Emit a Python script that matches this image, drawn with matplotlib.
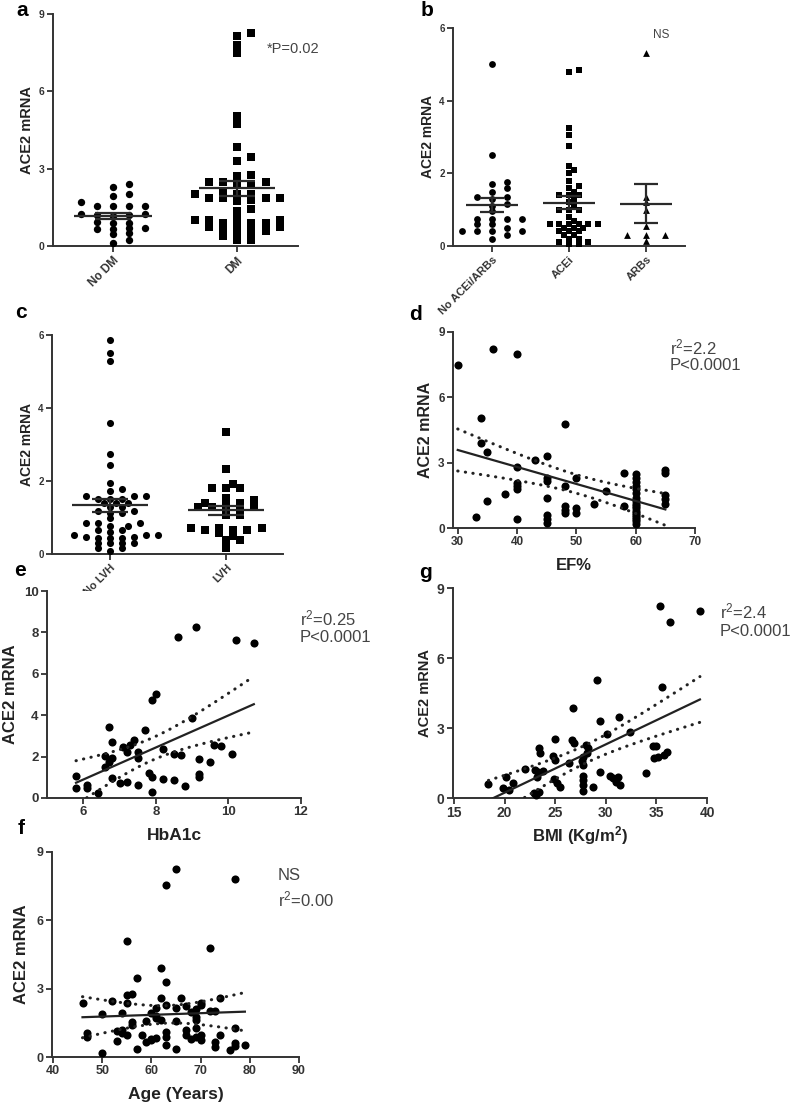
import numpy as np
import matplotlib
matplotlib.use("Agg")
import matplotlib.pyplot as plt

# ---------------- data ----------------
# a : diabetes
a_cats = ["No DM", "DM"]
a_nodm = [2.4, 2.3, 2.0, 1.95, 1.7, 1.55, 1.55, 1.55, 1.55, 1.2, 1.25, 1.15, 1.25, 1.2,
          0.9, 0.9, 0.95, 0.65, 0.7, 0.65, 0.7, 0.45, 0.5, 0.25, 0.1]
a_dm = [8.25, 8.15, 7.8, 7.5, 5.05, 4.75, 3.85, 3.45, 3.3, 2.75, 2.7, 2.5, 2.5, 2.5, 2.35,
        2.35, 2.1, 2.0, 2.0, 2.0, 1.85, 1.85, 1.85, 1.85, 1.75, 1.8, 1.45, 1.35, 1.15, 1.0,
        1.0, 1.0, 0.9, 0.9, 0.9, 0.9, 0.75, 0.75, 0.65, 0.65, 0.6, 0.6, 0.45, 0.45, 0.4,
        0.25, 0.25]

# b : treatment
b_cats = ["No ACEi/ARBs", "ACEi", "ARBs"]
b_none = [5.0, 2.5, 1.75, 1.7, 1.6, 1.5, 1.35, 1.35, 1.3, 1.15, 1.1, 0.95, 0.75, 0.75,
          0.75, 0.75, 0.6, 0.6, 0.5, 0.4, 0.4, 0.4, 0.4, 0.3, 0.2]
b_acei = [4.85, 4.8, 3.25, 3.05, 2.75, 2.2, 2.1, 2.0, 1.8, 1.65, 1.6, 1.5, 1.4, 1.4, 1.4,
          1.3, 1.2, 1.1, 1.0, 1.0, 1.0, 0.8, 0.7, 0.6, 0.6, 0.6, 0.6, 0.6, 0.6, 0.5, 0.5,
          0.5, 0.4, 0.4, 0.4, 0.3, 0.3, 0.2, 0.2, 0.1, 0.1, 0.05, 0.05]
b_arb = [5.3, 1.35, 1.2, 1.0, 0.55, 0.3, 0.3, 0.3, 0.15]

# c : LVH
c_cats = ["No LVH", "LVH"]
c_nolvh = [5.85, 5.5, 5.3, 3.6, 2.75, 2.45, 1.95, 1.78, 1.73, 1.6, 1.6, 1.6, 1.51, 1.51,
           1.51, 1.39, 1.39, 1.39, 1.28, 1.28, 1.18, 1.18, 1.11, 1.11, 0.99, 0.84, 0.84,
           0.84, 0.77, 0.77, 0.66, 0.66, 0.59, 0.52, 0.52, 0.52, 0.47, 0.47, 0.43, 0.43,
           0.43, 0.29, 0.29, 0.29, 0.29, 0.17, 0.17, 0.08]
c_lvh = [3.35, 2.32, 1.91, 1.8, 1.8, 1.8, 1.53, 1.48, 1.41, 1.41, 1.41, 1.3, 1.3, 1.3,
         1.22, 1.22, 1.07, 1.07, 0.7, 0.7, 0.7, 0.66, 0.66, 0.66, 0.57, 0.49, 0.38, 0.38,
         0.16]

# d : EF%
d_ef = [30, 36, 40, 34, 48, 34, 35, 40, 43, 45, 40, 40, 40, 45, 45, 45, 45, 45, 45, 38,
        35, 33, 40, 48, 48, 48, 48, 50, 50, 50, 53, 55, 58, 58,
        60, 60, 60, 60, 60, 60, 60, 60, 60, 60, 60, 60, 60, 60, 60, 60, 60, 60,
        65, 65, 65, 65, 65]
d_ace2 = [7.5, 8.23, 8.0, 5.05, 4.78, 3.9, 3.48, 2.8, 3.14, 3.3, 2.07, 1.92, 1.77, 2.3,
          2.15, 1.39, 0.6, 0.4, 0.25, 1.54, 1.23, 0.5, 0.42, 1.95, 1.02, 0.84, 0.69, 2.3,
          0.9, 0.7, 1.12, 1.69, 2.53, 1.0,
          2.5, 2.3, 2.1, 1.95, 1.8, 1.6, 1.4, 1.25, 1.1, 1.0, 0.9, 0.8, 0.7, 0.6, 0.5,
          0.4, 0.3, 0.2,
          2.68, 2.53, 1.5, 1.33, 1.12]

# e : HbA1c
e_hba1c = [8.6, 9.1, 10.2, 10.7, 7.9, 8.0, 9.0, 6.7, 7.7, 6.8, 7.1, 7.4, 7.3, 7.2, 7.5,
           7.5, 8.2, 8.5, 8.7, 6.6, 6.8, 6.7, 6.6, 9.2, 9.5, 9.6, 9.8, 10.1, 5.8, 5.8,
           6.1, 6.1, 6.4, 6.8, 7.0, 7.2, 7.5, 7.8, 7.9, 7.9, 8.2, 8.5, 8.8, 9.2, 9.2]
e_ace2 = [7.76, 8.25, 7.63, 7.5, 4.73, 5.02, 3.88, 3.45, 3.28, 2.72, 2.48, 2.8, 2.56,
          2.24, 2.24, 1.92, 2.35, 2.13, 2.08, 2.03, 1.92, 1.75, 1.51, 1.87, 1.75, 2.56,
          2.53, 2.11, 1.06, 0.5, 0.63, 0.46, 0.26, 0.98, 0.71, 0.79, 0.63, 1.22, 1.0,
          0.3, 0.9, 0.87, 0.58, 1.16, 1.0]

# g : BMI
g_bmi = [35.4, 36.3, 39.3, 29.1, 35.6, 26.8, 29.4, 31.3, 30.1, 32.4, 25.0, 26.7, 26.9,
         23.4, 23.5, 28.0, 28.2, 28.1, 34.7, 35.0, 36.0, 35.8, 34.8, 35.2, 24.8, 25.0,
         26.4, 27.6, 27.7, 27.7, 22.0, 23.0, 23.3, 23.8, 23.2, 29.4, 24.85, 25.15, 25.5,
         20.1, 18.4, 19.8, 20.4, 20.8, 22.9, 23.4, 27.7, 27.7, 27.7, 27.7, 28.7, 30.4,
         30.7, 31.0, 31.4, 34.0, 31.2, 23.1]
g_ace2 = [8.23, 7.53, 8.01, 5.06, 4.77, 3.87, 3.3, 3.46, 2.73, 2.81, 2.53, 2.49, 2.34,
          2.13, 1.92, 2.27, 2.13, 1.92, 2.23, 2.23, 1.98, 1.84, 1.7, 1.74, 1.8, 1.63,
          1.51, 1.6, 1.41, 1.77, 1.23, 1.2, 1.13, 1.17, 0.91, 1.13, 0.8, 0.63, 0.49,
          0.89, 0.59, 0.41, 0.34, 0.63, 0.23, 0.27, 0.94, 0.77, 0.56, 0.31, 0.49, 0.94,
          0.84, 0.7, 0.56, 1.06, 0.91, 0.13]

# f : Age
f_age = [65, 63, 77, 55, 72, 62, 57, 63, 56, 55, 46, 52, 55, 62, 63, 66, 65, 67, 61, 69,
         68, 70, 70, 74, 72, 73, 50, 54, 60, 61, 61, 62, 59, 56, 56, 65, 69, 69, 47, 47,
         53, 54, 54, 55, 53, 58, 59, 60, 60, 61, 63, 63, 63, 67, 67, 68, 69, 70, 70, 65,
         57, 50, 73, 73, 74, 77, 77, 76, 77, 79, 69]
f_ace2 = [8.24, 7.55, 7.8, 5.09, 4.8, 3.92, 3.45, 3.3, 2.75, 2.72, 2.36, 2.46, 2.36, 2.58,
          2.28, 2.58, 2.14, 2.24, 2.17, 2.09, 1.99, 2.28, 2.36, 2.6, 2.03, 2.03, 1.89,
          1.92, 1.94, 1.8, 1.7, 1.62, 1.59, 1.55, 1.4, 1.58, 1.77, 1.62, 1.04, 0.89, 1.14,
          1.18, 1.04, 0.97, 0.72, 0.97, 0.67, 0.75, 0.78, 0.82, 1.11, 0.89, 0.53, 1.18,
          0.97, 0.78, 1.29, 0.97, 0.75, 0.34, 0.34, 0.19, 0.67, 0.45, 0.97, 1.26, 0.6,
          0.31, 0.48, 0.53, 0.89]

# ---------------- figure ----------------
plt.rcParams['font.family'] = ['Liberation Sans', 'DejaVu Sans']
plt.rcParams['font.weight'] = 'bold'
plt.rcParams['mathtext.fontset'] = 'custom'
plt.rcParams['mathtext.rm'] = 'Liberation Sans'
plt.rcParams['mathtext.default'] = 'regular'

W, H = 797, 1105
fig = plt.figure(figsize=(W / 100, H / 100), dpi=100)
AX_COL = '#333333'
TXT_COL = '#444444'
T_CRIT = 2.0


def add_ax(l, t, r, b):
    ax = fig.add_axes([l / W, 1 - b / H, (r - l) / W, (b - t) / H])
    ax._px = (l, t, r, b)
    return ax


def style(ax, fs):
    for s in ['top', 'right']:
        ax.spines[s].set_visible(False)
    for s in ['left', 'bottom']:
        ax.spines[s].set_linewidth(1.4)
        ax.spines[s].set_color(AX_COL)
    ax.tick_params(direction='out', length=4, width=1.3, colors=AX_COL,
                   labelsize=fs, pad=2)


def ylab(ax, x_px, fs):
    l, t, r, b = ax._px
    ax.set_ylabel('ACE2 mRNA', fontsize=fs, fontweight='bold', color='#222222',
                  va='center')
    ax.yaxis.set_label_coords((x_px - l) / (r - l), 0.5)


def xlab(ax, text, y_px, fs):
    l, t, r, b = ax._px
    ax.set_xlabel(text, fontsize=fs, fontweight='bold', color='#222222', va='center')
    ax.xaxis.set_label_coords(0.5, (b - y_px) / (b - t))


def ftext(x, y, s, **kw):
    fig.text(x / W, 1 - y / H, s, **kw)


def swarm_offsets(vals, px_y, diam, kx=2.0, ky=0.7):
    ypx = np.asarray(vals, float) * px_y
    order = np.argsort(ypx)
    placed = []
    offs = np.zeros(len(ypx))
    step = kx * diam / 2
    for i in order:
        cands = [0.0]
        for j in range(1, 60):
            cands += [j * step, -j * step]
        for c in cands:
            if all(((c - ox) / (kx * diam)) ** 2 + ((ypx[i] - oy) / (ky * diam)) ** 2 >= 0.98
                   for ox, oy in placed):
                break
        offs[i] = c
        placed.append((c, ypx[i]))
    return offs


def dot_group(ax, pos, vals, marker, s, xlim, ylim, mean_hw_px, cap_hw_px, kx=2.0, ky=0.7):
    l, t, r, b = ax._px
    px_x = (r - l) / (xlim[1] - xlim[0])
    px_y = (b - t) / (ylim[1] - ylim[0])
    diam = np.sqrt(s) * 100 / 72
    offs = swarm_offsets(vals, px_y, diam, kx=kx, ky=ky)
    v = np.asarray(vals, float)
    ax.scatter(pos + offs / px_x, v, marker=marker, s=s, c='black', lw=0, zorder=3,
               clip_on=False)
    m = v.mean()
    se = v.std(ddof=1) / np.sqrt(len(v))
    ax.hlines(m, pos - mean_hw_px / px_x, pos + mean_hw_px / px_x, color='#2a2a2a',
              lw=1.6, zorder=4)
    ax.vlines(pos, m - se, m + se, color='#2a2a2a', lw=1.6, zorder=4)
    ax.hlines([m - se, m + se], pos - cap_hw_px / px_x, pos + cap_hw_px / px_x,
              color='#2a2a2a', lw=1.6, zorder=4)


def regression(ax, x, y, s=34):
    x = np.asarray(x, float)
    y = np.asarray(y, float)
    ax.scatter(x, y, s=s, c='black', lw=0, zorder=3, clip_on=False)
    slope, inter = np.polyfit(x, y, 1)
    xs = np.linspace(x.min(), x.max(), 200)
    yh = inter + slope * xs
    n = len(x)
    res = y - (inter + slope * x)
    sd = np.sqrt(np.sum(res ** 2) / (n - 2))
    sxx = np.sum((x - x.mean()) ** 2)
    se = sd * np.sqrt(1.0 / n + (xs - x.mean()) ** 2 / sxx)
    ax.plot(xs, yh, color='#222222', lw=1.6, zorder=4)
    for band in (yh + T_CRIT * se, yh - T_CRIT * se):
        ok = band >= 0
        ax.plot(xs[ok], band[ok], color='#222222', lw=2.2, ls=(0, (0.1, 2.4)),
                dash_capstyle='round', zorder=4)


# ---- panel a ----
ax = add_ax(53, 14, 298, 246)
xl, yl = (-0.484, 1.49), (0, 9)
ax.set_xlim(xl); ax.set_ylim(yl)
dot_group(ax, 0, a_nodm, 'o', 28, xl, yl, 39, 18, kx=2.2)
dot_group(ax, 1, a_dm, 's', 26, xl, yl, 38, 18, kx=2.0)
ax.set_yticks([0, 3, 6, 9])
ax.set_xticks([0, 1])
ax.set_xticklabels(a_cats, rotation=45, ha='right', rotation_mode='anchor', fontsize=8.5)
style(ax, 7.5)
ax.tick_params(axis='x', labelsize=8.5)
ylab(ax, 27, 10.5)
ftext(267, 49, '*P=0.02', fontsize=10.5, fontweight='normal', color=TXT_COL, va='center')
ftext(22, 10, 'a', fontsize=15, fontweight='bold', va='center', ha='center')

# ---- panel b ----
ax = add_ax(453, 28, 685, 246)
xl, yl = (-0.506, 2.506), (0, 6)
ax.set_xlim(xl); ax.set_ylim(yl)
dot_group(ax, 0, b_none, 'o', 24, xl, yl, 26, 12, kx=2.2)
dot_group(ax, 1, b_acei, 's', 24, xl, yl, 26, 12, kx=1.4, ky=0.6)
dot_group(ax, 2, b_arb, '^', 24, xl, yl, 26, 12, kx=2.8)
ax.set_yticks([0, 2, 4, 6])
ax.set_xticks([0, 1, 2])
ax.set_xticklabels(b_cats, rotation=45, ha='right', rotation_mode='anchor', fontsize=8)
style(ax, 7)
ax.tick_params(axis='x', labelsize=8)
ylab(ax, 428, 10)
ftext(653, 35, 'NS', fontsize=8.5, fontweight='normal', color=TXT_COL, va='center')
ftext(427, 10, 'b', fontsize=15, fontweight='bold', va='center', ha='center')

# ---- panel c ----
ax = add_ax(52, 335, 283, 554)
xl, yl = (-0.5, 1.49), (0, 6)
ax.set_xlim(xl); ax.set_ylim(yl)
dot_group(ax, 0, c_nolvh, 'o', 26, xl, yl, 38, 18, kx=1.7, ky=0.6)
dot_group(ax, 1, c_lvh, 's', 26, xl, yl, 38, 18, kx=2.0, ky=0.6)
ax.set_yticks([0, 2, 4, 6])
ax.set_xticks([0, 1])
ax.set_xticklabels(c_cats, rotation=45, ha='right', rotation_mode='anchor', fontsize=8)
style(ax, 7)
ax.tick_params(axis='x', labelsize=8)
ylab(ax, 27, 10)
ftext(21, 313, 'c', fontsize=15, fontweight='bold', va='center', ha='center')

# ---- panel d ----
ax = add_ax(453, 332, 695, 528)
ax.set_xlim(29.2, 70); ax.set_ylim(0, 9)
regression(ax, d_ef, d_ace2)
ax.set_xticks([30, 40, 50, 60, 70]); ax.set_yticks([0, 3, 6, 9])
style(ax, 8.5)
ylab(ax, 425, 11.5)
xlab(ax, 'EF%', 565, 12)
ftext(670, 347, '$\\mathregular{r^2}$=2.2', fontsize=12, fontweight='normal',
      color=TXT_COL, va='center')
ftext(670, 366, 'P<0.0001', fontsize=12, fontweight='normal', color=TXT_COL, va='center')
ftext(415, 315, 'd', fontsize=15, fontweight='bold', va='center', ha='center')

# ---- panel e ----
ax = add_ax(47, 591, 301, 798)
ax.set_xlim(5, 12); ax.set_ylim(0, 10)
regression(ax, e_hba1c, e_ace2)
ax.set_xticks([6, 8, 10, 12]); ax.set_yticks([0, 2, 4, 6, 8, 10])
style(ax, 9.5)
ylab(ax, 11, 12)
xlab(ax, 'HbA1c', 836, 12.5)
ftext(300, 618, '$\\mathregular{r^2}$=0.25', fontsize=12, fontweight='normal',
      color=TXT_COL, va='center')
ftext(300, 638, 'P<0.0001', fontsize=12, fontweight='normal', color=TXT_COL, va='center')
ftext(20, 570, 'e', fontsize=15, fontweight='bold', va='center', ha='center')

# ---- panel g ----
ax = add_ax(453, 588, 707, 798)
ax.set_xlim(14.9, 40); ax.set_ylim(0, 9)
regression(ax, g_bmi, g_ace2)
ax.set_xticks([15, 20, 25, 30, 35, 40]); ax.set_yticks([0, 3, 6, 9])
style(ax, 10)
ylab(ax, 425, 10.5)
xlab(ax, 'BMI (Kg/m$^2$)', 836, 12)
ftext(720, 611, '$\\mathregular{r^2}$=2.4', fontsize=12, fontweight='normal',
      color=TXT_COL, va='center')
ftext(720, 632, 'P<0.0001', fontsize=12, fontweight='normal', color=TXT_COL, va='center')
ftext(425, 572, 'g', fontsize=15, fontweight='bold', va='center', ha='center')

# ---- panel f ----
ax = add_ax(52, 852, 299, 1057)
ax.set_xlim(39.8, 90); ax.set_ylim(0, 9)
regression(ax, f_age, f_ace2)
ax.set_xticks([40, 50, 60, 70, 80, 90]); ax.set_yticks([0, 3, 6, 9])
style(ax, 9)
ylab(ax, 22, 12)
xlab(ax, 'Age (Years)', 1094, 12.5)
ftext(278, 875, 'NS', fontsize=12, fontweight='normal', color=TXT_COL, va='center')
ftext(278, 899, '$\\mathregular{r^2}$=0.00', fontsize=12, fontweight='normal',
      color=TXT_COL, va='center')
ftext(21, 829, 'f', fontsize=15, fontweight='bold', va='center', ha='center')

fig.savefig('out.png', dpi=100)
